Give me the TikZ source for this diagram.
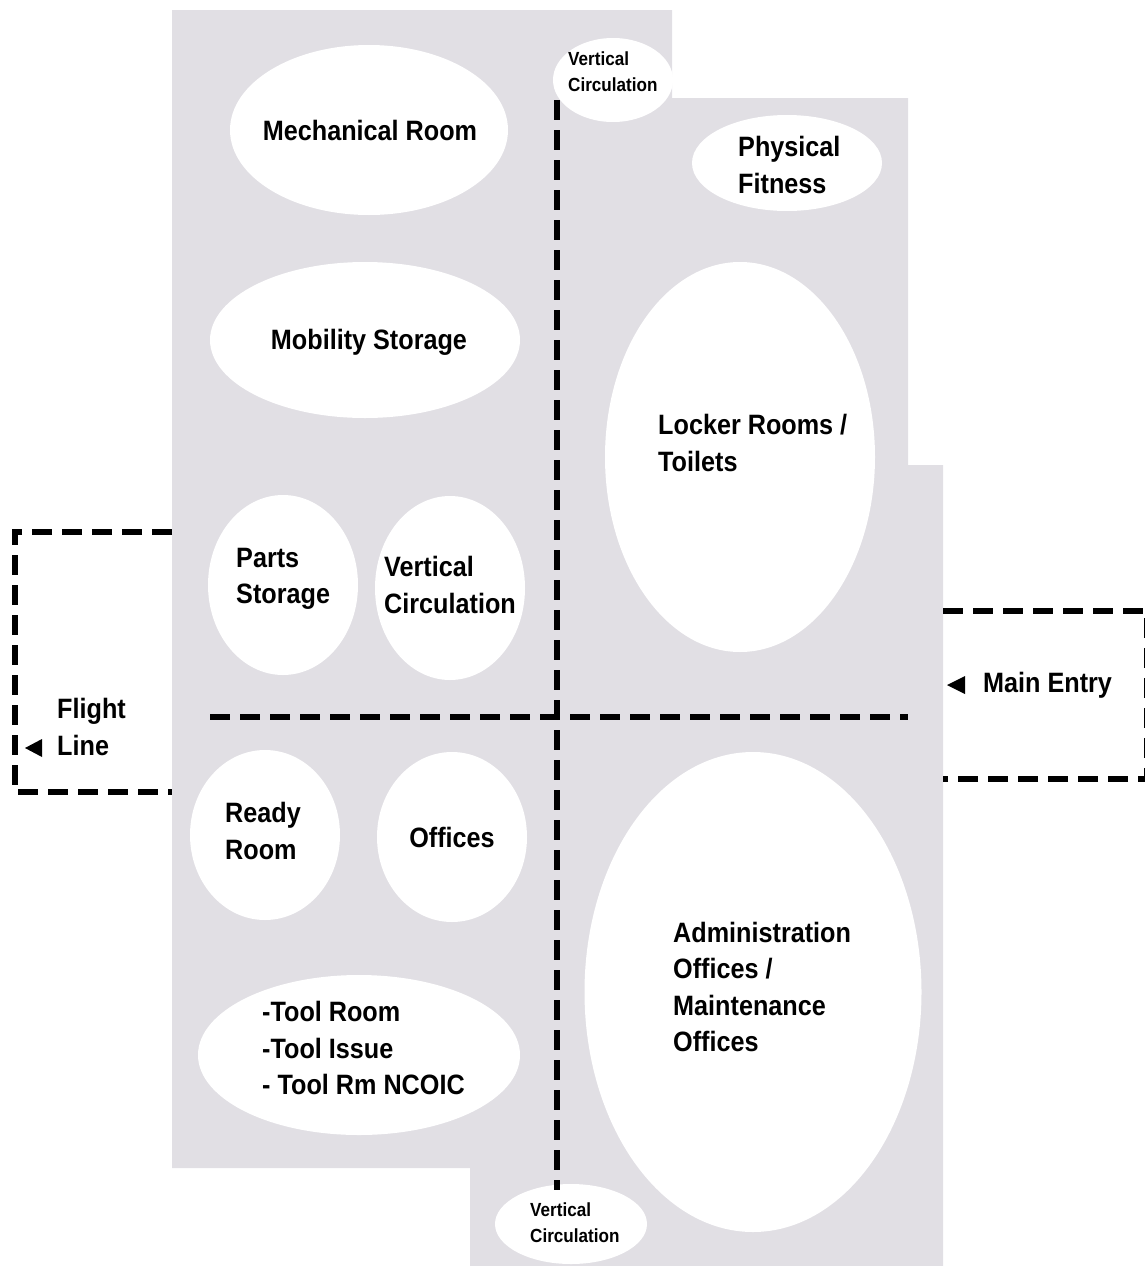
\documentclass[tikz,border=0pt]{standalone}
\usepackage{fontspec}
\setmainfont{Liberation Sans}[FakeStretch=0.9]
\usetikzlibrary{shapes.geometric}
\definecolor{floorgray}{RGB}{225,223,228}
\tikzset{
  room/.style={ellipse, fill=white, draw=none, inner sep=0pt},
  lbl/.style={font=\fontsize{28}{36.5}\selectfont\bfseries, align=left, inner sep=0pt, anchor=west},
  lblc/.style={font=\fontsize{28}{36.5}\selectfont\bfseries, align=center, inner sep=0pt},
  small/.style={font=\fontsize{19}{26}\selectfont\bfseries, align=left, inner sep=0pt, anchor=west},
  zone/.style={line width=6pt, dash pattern=on 20pt off 10pt},
  tip/.style={fill=black}
}
\begin{document}
\begin{tikzpicture}[x=1pt,y=-1pt]
\useasboundingbox (0,0) rectangle (1144,1266);
% floor plate
\fill[floorgray] (172,10) -- (672,10) -- (672,98) -- (908,98) -- (908,465) -- (943,465)
  -- (943,1266) -- (470,1266) -- (470,1168) -- (172,1168) -- cycle;
% rooms
\node[room, minimum width=278pt, minimum height=170pt] (mech) at (369,130) {};
\node[room, minimum width=310pt, minimum height=156pt] (mob) at (365,340) {};
\node[room, minimum width=150pt, minimum height=180pt] (parts) at (283,585) {};
\node[room, minimum width=150pt, minimum height=184pt] (vcm) at (450,588) {};
\node[room, minimum width=150pt, minimum height=170pt] (ready) at (265,835) {};
\node[room, minimum width=150pt, minimum height=170pt] (off) at (452,837) {};
\node[room, minimum width=322pt, minimum height=160pt] (tool) at (359,1055) {};
\node[room, minimum width=120pt, minimum height=84pt] (vct) at (613,80) {};
\node[room, minimum width=190pt, minimum height=96pt] (fit) at (787,163) {};
\node[room, minimum width=270pt, minimum height=390pt] (lock) at (740,457) {};
\node[room, minimum width=337pt, minimum height=480pt] (adm) at (753,992) {};
\node[room, minimum width=152pt, minimum height=80pt] (vcb) at (571,1224) {};
% labels
\node[lblc] (tmech) at (370,130) {Mechanical Room};
\node[lblc] (tmob) at (369,342) {Mobility Storage};
\node[lbl] (tparts) at (236,579) {Parts\\Storage};
\node[lbl] (tvcm) at (384,585) {Vertical\\Circulation};
\node[lbl] (tready) at (225,831) {Ready\\Room};
\node[lblc] (toff) at (452,837) {Offices};
\node[lbl] (ttool) at (262,1048) {-Tool Room\\-Tool Issue\\- Tool Rm NCOIC};
\node[lbl] (tfit) at (738,165) {Physical\\Fitness};
\node[lbl] (tlock) at (658,443) {Locker Rooms /\\Toilets};
\node[lbl] (tadm) at (673,987) {Administration\\Offices /\\Maintenance\\Offices};
\node[small] (tvct) at (568,72) {Vertical\\Circulation};
\node[small] (tvcb) at (530,1223) {Vertical\\Circulation};
\node[lbl] (tflight) at (57,727) {Flight\\Line};
\node[lbl] (tmain) at (983,685) {Main Entry};
% circulation axes
\coordinate (ntop) at (557,100);
\coordinate (nbot) at (557,1190);
\coordinate (wend) at (210,717);
\coordinate (eend) at (908,717);
\draw[zone] (ntop) -- (nbot);
\draw[zone] (wend) -- (eend);
% flight line zone
\coordinate (f1) at (172,532);
\coordinate (f2) at (15,532);
\coordinate (f3) at (15,792);
\coordinate (f4) at (172,792);
\draw[zone] (f1) -- (f2) -- (f3) -- (f4);
% main entry zone
\coordinate (m1) at (943,611);
\coordinate (m2) at (1146.5,611);
\coordinate (m3) at (1146.5,779);
\coordinate (m4) at (943,779);
\draw[zone] (m1) -- (m2) -- (m3) -- (m4);
% entry arrows
\fill[tip] (25,748) -- (42,739) -- (42,757) -- cycle;
\fill[tip] (947,685) -- (965,676) -- (965,694) -- cycle;
\end{tikzpicture}
\end{document}
